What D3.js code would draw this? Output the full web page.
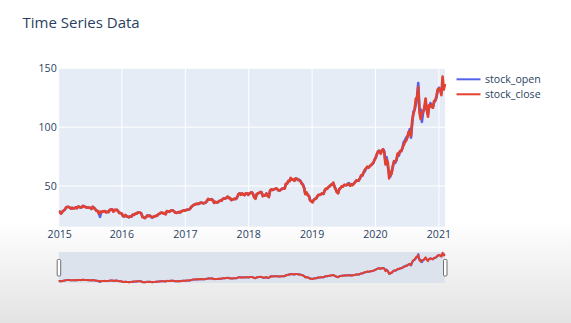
<!DOCTYPE html>
<html><head><meta charset="utf-8">
<script src="https://cdn.jsdelivr.net/npm/d3@7"></script>
<style>html,body{margin:0;padding:0;background:#fff;overflow:hidden;} svg{display:block;font-family:"Open Sans",verdana,arial,sans-serif;}</style>
</head><body><svg id="chart" width="571" height="323"></svg>
<script>
// ---- data (weekly, Fridays 2015-01-02 .. 2021-02-05) ----
const seriesNames = ["stock_open", "stock_close"];
const yTicks = [50, 100, 150];
const firstDay = "2015-01-02";
const lastDay = "2021-02-05";

const close2015 = [27.33,28.00,26.50,28.24,29.29, 29.73,31.72,32.37,32.12, 31.65,30.81,31.48,30.81, 31.09,31.80,31.05,32.61, 32.24,31.71,32.05,33.22,32.57, 32.03,31.81,31.62,31.65, 31.31,30.66,32.39,31.30,30.32, 28.85,28.97,26.44,28.32, 27.34,28.55,28.35,28.71, 27.59,28.19,27.79,29.77,29.88, 30.26,28.10,29.82,29.44, 29.81,28.30,26.83,27.01];
const open2015 = [27.85,28.17,26.76,27.96,29.00, 29.80,31.60,32.20,32.30, 31.80,30.68,31.50,31.03, 31.20,31.55,31.35,32.30, 32.40,31.55,31.90,33.10,32.70, 32.10,31.90,31.80,31.50, 31.45,30.40,32.10,31.60,30.50, 29.20,28.70,27.20,23.80, 27.60,28.40,28.60,28.50, 27.80,28.00,27.90,29.40,30.00, 30.10,28.40,29.60,29.60, 29.70,28.60,27.20,27.00];

const close2016 = [26.32,24.24,24.28,25.36,24.34, 23.69,23.50,24.11,24.17, 25.75,25.57,26.48,26.42, 27.50,27.25,27.46,26.49,23.43, 23.18,22.63,23.80,25.09, 24.48,24.63,23.85,23.35, 23.97,24.17,24.70,24.67,26.05, 26.48,27.20,27.39,26.73, 26.93,25.78,28.73,28.40,28.26, 28.85,29.41,29.06,28.43, 27.21,27.09,27.50,27.95, 27.48,28.49,28.99,29.19,28.95];
const open2016 = [26.44,24.50,24.05,25.10,24.10, 24.00,23.40,24.20,24.00, 25.60,25.40,26.30,26.50, 27.30,27.40,27.30,26.70,23.90, 23.40,22.80,23.60,24.90, 24.60,24.80,24.00,23.00, 23.80,24.10,24.60,24.80,25.80, 26.40,27.30,27.30,26.80, 26.90,26.40,28.30,28.50,28.00, 28.80,29.30,29.20,28.50, 27.30,27.40,27.40,27.90, 27.60,28.40,28.90,29.10,29.10];

const close2017 = [29.75,29.76,30.00,30.49, 32.27,33.03,33.93,34.17, 34.75,34.79,34.81,35.35,35.92, 35.61,35.26,35.57,35.91, 37.24,39.02,38.27,38.40, 38.86,37.24,35.57,36.57,36.00, 36.18,37.23,37.57,37.38, 39.10,39.27,39.38,39.97, 41.01,39.66,39.98,37.97,38.53, 38.87,39.12,39.06,40.76, 43.13,43.67,42.48,43.74, 42.76,42.34,43.75,43.75,42.31];
const open2017 = [29.60,29.80,29.90,30.40, 32.00,32.90,33.80,34.30, 34.60,34.90,34.70,35.30,35.80, 35.70,35.30,35.50,36.00, 37.00,38.80,38.40,38.50, 38.70,38.00,35.80,36.40,36.10, 36.00,37.10,37.60,37.50, 38.90,39.40,39.20,39.90, 40.90,40.00,39.80,38.20,38.40, 38.80,39.20,39.00,40.50, 43.00,43.80,42.60,43.60, 42.90,42.20,43.60,43.80,42.60];

const close2018 = [43.75,44.27,44.62,42.88, 40.13,39.10,43.11,43.87, 44.05,44.99,44.51,41.24,41.95, 42.10,43.68,41.43,40.58, 46.15,47.15,46.58,47.15, 47.56,47.93,47.21,46.13,46.28, 46.99,47.84,47.86,47.74, 51.87,51.88,54.40,54.04,56.91, 55.33,55.53,54.42,56.44, 56.07,55.53,54.83,54.08, 51.87,51.12,48.38,43.07,44.65, 42.12,41.37,37.68,37.00];
const open2018 = [43.60,44.10,44.70,43.20, 40.50,39.80,42.90,43.60, 44.20,44.80,44.70,41.80,41.70, 42.30,43.50,41.70,40.80, 45.90,47.00,46.70,47.10, 47.40,47.90,47.30,46.30,46.20, 46.90,47.70,47.90,47.90, 51.50,51.90,54.00,54.20,56.60, 55.60,55.40,54.60,56.30, 56.30,55.00,55.30,54.30, 52.40,51.30,48.80,43.50,44.20, 42.60,41.60,37.80,37.20];

const close2019 = [36.00,38.07,39.21,39.44, 41.63,42.60,42.41,43.24, 43.74,43.23,46.53,47.76,47.49, 49.25,49.72,50.97,51.08, 52.94,49.30,47.25,44.74,43.77, 47.54,48.19,49.70,49.48, 51.06,50.83,50.65,51.94, 51.01,50.25,51.63,50.66,52.19, 53.31,54.69,54.43,54.71, 56.75,59.05,59.10,61.65, 63.96,65.04,66.44,65.45,66.81, 67.68,68.79,69.86,72.45];
const open2019 = [37.20,38.20,39.00,39.60, 41.20,42.40,42.50,43.10, 43.60,43.30,46.20,47.50,47.60, 49.00,49.80,50.80,51.20, 52.50,49.80,47.40,45.00,44.10, 47.20,48.30,49.50,49.60, 50.90,50.90,50.70,51.80, 52.40,50.30,51.50,51.00,52.10, 53.20,54.80,54.50,54.60, 56.40,58.80,58.70,61.30, 62.40,64.60,66.00,65.80,66.60, 67.80,68.40,69.60,72.20];

const close2020 = [74.36,77.58,79.68,79.58,77.38, 80.01,81.24,78.26,68.34, 72.26,69.49,56.50,61.94, 60.35,66.99,70.70,70.74, 72.27,77.53,76.93,79.72,79.49, 82.88,84.70,87.43,88.41, 91.03,95.92,96.33,92.62,106.26, 111.11,115.01,124.37,124.81, 134.18,112.00,106.84,112.28, 113.02,116.97,124.40,115.04,108.86, 118.69,119.26,117.34,116.59, 122.25,122.41,126.66,131.97];
const open2020 = [74.00,77.00,79.30,80.10,79.00, 79.60,81.20,79.60,70.50, 74.50,66.20,60.50,58.00, 61.60,65.70,71.10,69.60, 71.80,76.40,75.80,79.60,79.80, 81.90,87.30,88.70,91.10, 91.90,94.80,98.40,91.00,102.90, 113.20,114.80,119.30,126.00, 137.60,114.60,115.00,104.50, 112.90,115.30,121.00,116.40,111.10, 117.50,120.50,118.60,116.60, 121.00,122.60,125.00,131.30];

const close2021 = [132.69,132.05,127.14,143.00,131.96,136.76];
const open2021 = [133.50,132.40,128.80,136.30,135.80,134.70];

const closeValues = [].concat(close2015, close2016, close2017, close2018, close2019, close2020, close2021);
const openValues  = [].concat(open2015, open2016, open2017, open2018, open2019, open2020, open2021);

// ---- layout ----
const W = 571, H = 323;
const plot = {l: 58.7, r: 445, t: 68, b: 226.7};
const slider = {t: 252, b: 283};
const colors = {stock_open: "#5563ec", stock_close: "#e3412f"};
const textColor = "#2a3f5f";
const tickFont = 10.6;

const parse = d3.timeParse("%Y-%m-%d");
const t0 = parse(firstDay), t1 = parse(lastDay);
const dates = d3.timeFriday.range(t0, d3.timeDay.offset(t1, 1));

const rows = dates.map((d, i) => ({date: d, stock_open: openValues[i], stock_close: closeValues[i]}));

const svg = d3.select("#chart");

// background gradient (screenshot shading)
const defs = svg.append("defs");
const grad = defs.append("linearGradient").attr("id", "bg").attr("x1", 0).attr("y1", 0).attr("x2", 0).attr("y2", 1);
grad.append("stop").attr("offset", "0%").attr("stop-color", "#ffffff");
grad.append("stop").attr("offset", "68%").attr("stop-color", "#ffffff");
grad.append("stop").attr("offset", "100%").attr("stop-color", "#e3e3e3");
svg.append("rect").attr("width", W).attr("height", H).attr("fill", "url(#bg)");

const x = d3.scaleTime().domain([t0, t1]).range([plot.l, plot.r]);
const y = d3.scaleLinear().domain([15.4, 150.3]).range([plot.b, plot.t]);

// plot background
svg.append("rect").attr("x", plot.l).attr("y", plot.t)
  .attr("width", plot.r - plot.l).attr("height", plot.b - plot.t).attr("fill", "#e5ecf6");

// grid
const xTicks = d3.timeYear.range(d3.timeYear.ceil(t0), t1);
xTicks.unshift(d3.timeYear.floor(t0));
svg.append("g").selectAll("line").data(xTicks.filter(d => x(d) >= plot.l - 1)).join("line")
  .attr("x1", d => Math.max(plot.l, x(d))).attr("x2", d => Math.max(plot.l, x(d)))
  .attr("y1", plot.t).attr("y2", plot.b).attr("stroke", "#fff").attr("stroke-width", 1);
svg.append("g").selectAll("line").data(yTicks).join("line")
  .attr("x1", plot.l).attr("x2", plot.r).attr("y1", d => y(d)).attr("y2", d => y(d))
  .attr("stroke", "#fff").attr("stroke-width", 1);

// axes labels
const xAxis = d3.axisBottom(x).tickValues(xTicks).tickFormat(d3.timeFormat("%Y")).tickSize(0).tickPadding(0);
const gx = svg.append("g").attr("transform", `translate(0,${plot.b})`).call(xAxis);
gx.select(".domain").remove();
gx.selectAll("text").attr("dy", null).attr("y", 11).attr("fill", textColor).attr("font-size", tickFont)
  .attr("font-family", '"Open Sans",verdana,arial,sans-serif');
gx.selectAll(".tick").attr("transform", d => `translate(${Math.max(x(d), plot.l + 1)},0)`);

const yAxis = d3.axisLeft(y).tickValues(yTicks).tickSize(0).tickPadding(2);
const gy = svg.append("g").attr("transform", `translate(${plot.l},0)`).call(yAxis);
gy.select(".domain").remove();
gy.selectAll("text").attr("fill", textColor).attr("font-size", tickFont)
  .attr("font-family", '"Open Sans",verdana,arial,sans-serif');

// lines
const clip = defs.append("clipPath").attr("id", "clipPlot");
clip.append("rect").attr("x", plot.l).attr("y", plot.t - 2).attr("width", plot.r - plot.l + 2).attr("height", plot.b - plot.t + 2);
const lg = svg.append("g").attr("clip-path", "url(#clipPlot)");
seriesNames.forEach(name => {
  const line = d3.line().x(d => x(d.date)).y(d => y(d[name])).curve(d3.curveLinear);
  lg.append("path").datum(rows).attr("d", line).attr("fill", "none")
    .attr("stroke", colors[name]).attr("stroke-width", 2.6).attr("stroke-linejoin", "round");
});

// range slider
const ys = d3.scaleLinear().domain([20, 146]).range([slider.b, slider.t]);
svg.append("rect").attr("x", plot.l).attr("y", slider.t).attr("width", plot.r - plot.l).attr("height", slider.b - slider.t)
  .attr("fill", "#dce3ed");
seriesNames.forEach(name => {
  const line = d3.line().x(d => x(d.date)).y(d => ys(d[name]));
  svg.append("path").datum(rows).attr("d", line).attr("fill", "none")
    .attr("stroke", colors[name]).attr("stroke-width", 2).attr("stroke-linejoin", "round");
});
[plot.l - 1.5, plot.r - 1.5].forEach(hx => {
  svg.append("rect").attr("x", hx).attr("y", 259.5).attr("width", 3.5).attr("height", 16.5)
    .attr("rx", 1).attr("fill", "#fff").attr("stroke", "#6f6f6f").attr("stroke-width", 1);
});

// title
svg.append("text").attr("x", 22.5).attr("y", 28.2).attr("fill", textColor)
  .attr("font-size", 15).text("Time Series Data");

// legend
const leg = svg.append("g").attr("transform", "translate(456.5,0)");
seriesNames.forEach((name, i) => {
  const cy = 79.3 + i * 15;
  leg.append("line").attr("x1", 0).attr("x2", 24).attr("y1", cy).attr("y2", cy)
    .attr("stroke", colors[name]).attr("stroke-width", 2);
  leg.append("text").attr("x", 28.5).attr("y", cy).attr("dy", "0.35em").attr("fill", textColor)
    .attr("font-size", tickFont).text(name);
});
</script>
</body></html>
